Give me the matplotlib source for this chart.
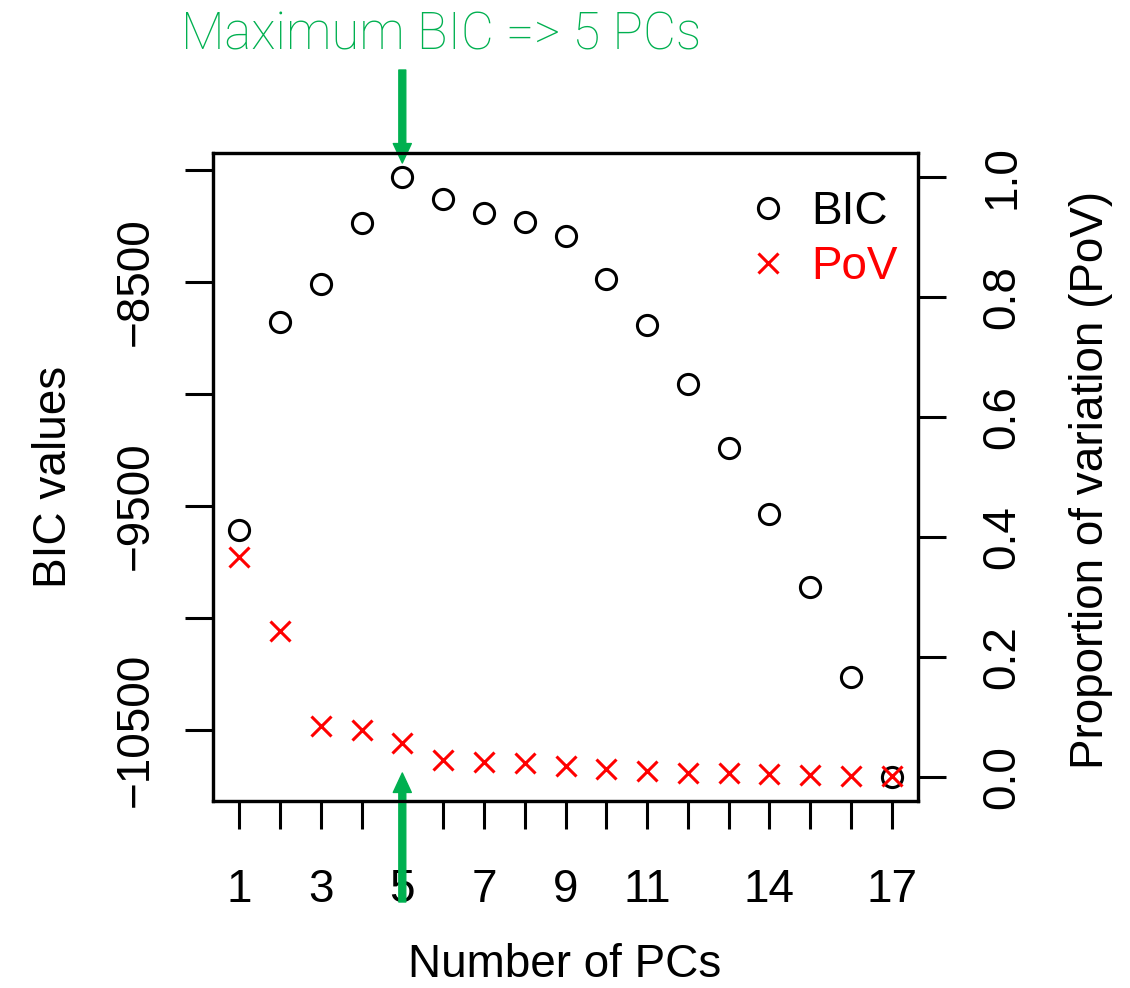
import matplotlib
matplotlib.use("Agg")
import matplotlib.pyplot as plt

# ---- data ----
pcs = list(range(1, 18))
bic = [-9610, -8678, -8510, -8238, -8033, -8130, -8192, -8234, -8298,
       -8487, -8693, -8957, -9240, -9538, -9862, -10266, -10710]
pov = [0.367, 0.243, 0.085, 0.078, 0.057, 0.028, 0.025, 0.023, 0.018,
       0.013, 0.010, 0.007, 0.007, 0.005, 0.003, 0.002, 0.001]
x_ticks = list(range(1, 18))
x_ticklabels = ["1", "", "3", "", "5", "", "7", "", "9", "", "11", "", "", "14", "", "", "17"]
bic_ticks = [-8000, -8500, -9000, -9500, -10000, -10500]
bic_ticklabels = ["", "\u22128500", "", "\u22129500", "", "\u221210500"]
pov_ticks = [0.0, 0.2, 0.4, 0.6, 0.8, 1.0]
pov_ticklabels = ["0.0", "0.2", "0.4", "0.6", "0.8", "1.0"]
best_pc = 5
title_text = "Maximum BIC => 5 PCs"

W, H = 1130, 988
plt.rcParams['font.family'] = ['Liberation Sans', 'DejaVu Sans']
FS = 33
GREEN = '#00b050'

fig = plt.figure(figsize=(W / 100, H / 100), dpi=100)
fig.patch.set_facecolor('white')

L, R, T, B = 213, 918, 153, 801
ax = fig.add_axes([L / W, 1 - B / H, (R - L) / W, (B - T) / H])
ax2 = ax.twinx()

# BIC
ax.plot(pcs, bic, linestyle='none', marker='o', markersize=14.5,
        markerfacecolor='none', markeredgecolor='black', markeredgewidth=2.2, label='BIC')
pad = 0.04 * (max(bic) - min(bic))
ax.set_ylim(min(bic) - pad, max(bic) + pad)
ax.set_xlim(1 - 0.04 * 16, 17 + 0.04 * 16)

# PoV
ax2.plot(pcs, pov, linestyle='none', marker='x', markersize=14,
         markeredgecolor='red', markeredgewidth=2.2, label='PoV')
ax2.set_ylim(-0.04, 1.04)

for a in (ax, ax2):
    for s in a.spines.values():
        s.set_linewidth(2.3)
        s.set_color('black')

ax.set_xticks(x_ticks)
ax.set_xticklabels(x_ticklabels)
ax.set_yticks(bic_ticks)
ax.set_yticklabels(bic_ticklabels)
ax2.set_yticks(pov_ticks)
ax2.set_yticklabels(pov_ticklabels)

ax.tick_params(axis='x', length=20, width=2.2, pad=28, labelsize=FS)
ax.tick_params(axis='y', length=20, width=2.2, pad=20, labelsize=FS)
ax2.tick_params(axis='y', length=20, width=2.2, pad=25, labelsize=FS)
for lab in ax.get_yticklabels():
    lab.set_rotation(90)
    lab.set_va('center')
    lab.set_ha('right')
for lab in ax2.get_yticklabels():
    lab.set_rotation(90)
    lab.set_va('center')
    lab.set_ha('left')

# axis labels
fig.text(565 / W, 1 - 965 / H, "Number of PCs", ha='center', va='center', fontsize=FS)
fig.text(54 / W, 1 - 477 / H, "BIC values", ha='center', va='center', rotation=90, fontsize=FS)
fig.text(1091 / W, 1 - 480 / H, "Proportion of variation (PoV)", ha='center', va='center',
         rotation=90, fontsize=FS)

# legend
handles = [ax.get_lines()[0], ax2.get_lines()[0]]
leg = ax2.legend(handles, ['BIC', 'PoV'], loc='upper left',
                 bbox_to_anchor=(745 / W, 1 - 190 / H), bbox_transform=fig.transFigure,
                 frameon=False, fontsize=FS, handlelength=1.0, handletextpad=0.45,
                 labelspacing=0.24, borderpad=0, borderaxespad=0)
for txt, c in zip(leg.get_texts(), ['black', 'red']):
    txt.set_color(c)

# annotation
fig.text(441 / W, 1 - 49 / H, title_text, ha='center', va='baseline', color=GREEN,
         fontsize=36.5, family=['Roboto', 'Liberation Sans'], fontweight='light')
ax.annotate('', xy=(best_pc, 1 - 163 / H), xycoords=('data', 'figure fraction'),
            xytext=(best_pc, 1 - 70 / H), textcoords=('data', 'figure fraction'),
            arrowprops=dict(width=5, headwidth=13, headlength=14, color=GREEN, shrink=0),
            annotation_clip=False)
ax.annotate('', xy=(best_pc, 1 - 773 / H), xycoords=('data', 'figure fraction'),
            xytext=(best_pc, 1 - 902 / H), textcoords=('data', 'figure fraction'),
            arrowprops=dict(width=5, headwidth=13, headlength=14, color=GREEN, shrink=0),
            annotation_clip=False)

fig.savefig('out.png', dpi=100, facecolor='white')
